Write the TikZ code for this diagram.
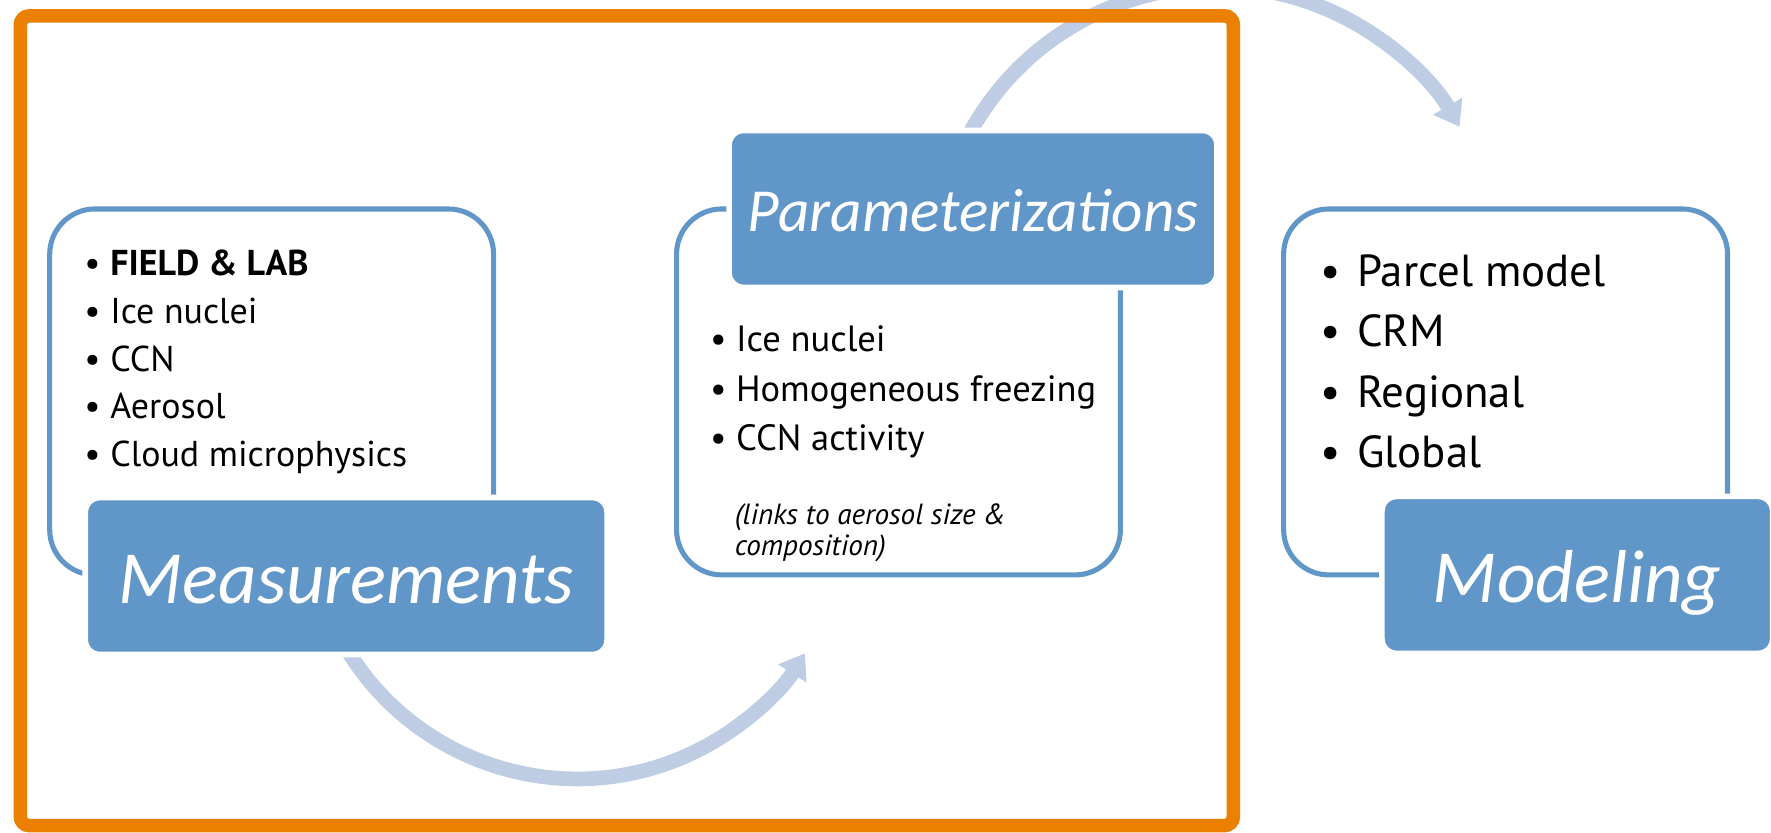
\documentclass[tikz,border=0pt]{standalone}
\usepackage{fontspec}
\setmainfont{PT Sans}
\newfontfamily\calfont{Carlito}
\usepackage{tikz}
\usetikzlibrary{positioning, arrows.meta}

\definecolor{boxblue}{RGB}{97,150,200}
\definecolor{arcblue}{RGB}{190,205,227}
\definecolor{frameorange}{RGB}{235,128,0}

\newcommand{\itm}[2][2.3mm]{\makebox[#1][l]{\textbullet}#2}

\begin{document}
\begin{tikzpicture}[
    x=0.1mm, y=0.1mm,
    panel/.style={
        draw=boxblue,
        line width=0.45mm,
        rounded corners=4mm,
        minimum width=39.3mm,
        minimum height=32.4mm,
    },
    tag/.style={
        draw=white,
        line width=0.5mm,
        fill=boxblue,
        rounded corners=1.3mm,
        minimum height=13.9mm,
        inner sep=0pt,
        text=white,
        text depth=0pt,
        font=\calfont\itshape\fontsize{#1}{#1}\selectfont,
    },
    tag/.default=18.9,
    list/.style={
        anchor=base west,
        align=left,
        inner sep=0pt,
    },
    flow/.style={
        -{Triangle[length=2.1mm, width=2.85mm]},
        draw=arcblue,
        line width=1.3mm,
    },
]
\useasboundingbox (0,0) rectangle (1568,-737.5);

% ----- Arrows (under the boxes) -----
\coordinate (lowc) at (511,-451);
\coordinate (upc) at (1077,-237);
\draw[flow] ([shift={(210:238.6)}]lowc) arc[start angle=210, end angle=327.7, radius=238.6];
\draw[flow] ([shift={(153:248.8)}]upc) arc[start angle=153, end angle=30.1, radius=248.8];

% ----- Panels -----
\node[panel] (measpanel) at (240.5,-347) {};
\node[panel] (parampanel) at (795.5,-347) {};
\node[panel] (modelpanel) at (1333,-347) {};

% ----- Title boxes -----
\node[tag, minimum width=46.2mm, text height=4.8mm] (meas) at (306.5,-510) {Measurements};
\node[tag=15.4, minimum width=43.2mm, text height=4.0mm] (param) at (861.5,-185) {Parameterizations};
\node[tag, minimum width=34.6mm, text height=4.8mm] (model) at (1396.5,-509) {Modeling};

% ----- Lists (anchored on their last line) -----
\node[list, font=\fontsize{9.05}{12}\selectfont] (measlist) at (74,-413)
    {\itm{\textbf{FIELD \& LAB}}\\ \itm{Ice nuclei}\\ \itm{CCN}\\ \itm{Aerosol}\\ \itm{Cloud microphysics}};
\node[list, font=\fontsize{9.2}{12.5}\selectfont] (paramlist) at (628,-399)
    {\itm{Ice nuclei}\\ \itm{Homogeneous freezing}\\ \itm{CCN activity}};
\node[list, font=\itshape\fontsize{7.35}{7.8}\selectfont] (paramnote) at (650,-492)
    {(links to aerosol size \&\\ composition)};
\node[list, font=\fontsize{11.3}{15.2}\selectfont] (modellist) at (1168,-414)
    {\itm[3.3mm]{Parcel model}\\ \itm[3.3mm]{CRM}\\ \itm[3.3mm]{Regional}\\ \itm[3.3mm]{Global}};

% ----- Orange frame -----
\draw[frameorange, line width=1.2mm, rounded corners=0.8mm] (18,-14) rectangle (1092,-731);

\end{tikzpicture}
\end{document}
